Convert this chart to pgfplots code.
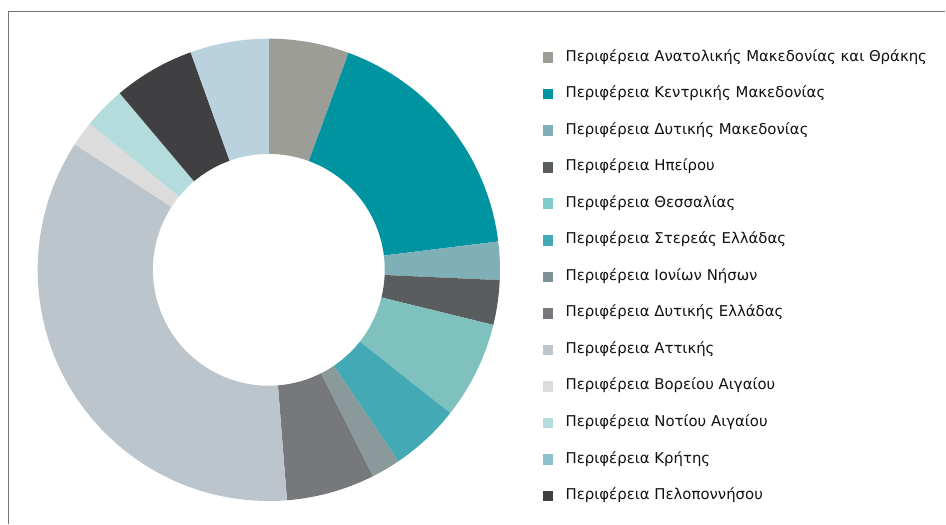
\documentclass[border=0pt]{standalone}
\usepackage{pgfplots}
\usepackage{pgfplotstable}
\pgfplotsset{compat=1.18}
\usepackage{fontspec}
\setmainfont{DejaVu Sans}

% slice colours (pie) and legend colours
\definecolor{s1}{HTML}{9D9D98}
\definecolor{s2}{HTML}{0093A0}
\definecolor{s3}{HTML}{7FB0B8}
\definecolor{s4}{HTML}{5A5D5E}
\definecolor{s5}{HTML}{7FC1BF}
\definecolor{s6}{HTML}{43A9B5}
\definecolor{s7}{HTML}{8A9A9A}
\definecolor{s8}{HTML}{77787C}
\definecolor{s9}{HTML}{BCC5CC}
\definecolor{s10}{HTML}{DCDCDD}
\definecolor{s11}{HTML}{B5DCDC}
\definecolor{s12}{HTML}{404042}
\definecolor{s13}{HTML}{B9D2DE}
\definecolor{l5}{HTML}{80CCCB}
\definecolor{l7}{HTML}{7F9297}
\definecolor{l12}{HTML}{8CC2CC}
\definecolor{txt}{HTML}{111111}

% share of each region, in pie order (clockwise from 12 o'clock)
\pgfplotstableread{
id value
1 5.61
2 17.43
3 2.67
4 3.12
5 6.81
6 4.89
7 2.04
8 6.18
9 35.39
10 1.76
11 2.94
12 5.67
13 5.49
}\shares

\begin{document}
\begin{tikzpicture}[x=1pt,y=1pt]
\path (0,0) rectangle (946,524);
\draw[black!55, line width=1.2pt] (8.8,0) -- (8.8,512.3) -- (946,512.3);
\begin{axis}[
    at={(269pt,254pt)}, anchor=center,
    width=462.6pt, height=462.6pt, scale only axis,
    hide axis, clip=false,
    xmin=-1, xmax=1, ymin=-1, ymax=1,
    legend cell align=left,
    legend image code/.code={\path[fill, draw=none] (0pt,-5.3pt) rectangle (10.6pt,5.3pt);},
    legend style={
        at={(1.0917,0.9747)}, anchor=north west,
        draw=none, fill=none, inner sep=0pt,
        row sep=22.57pt, column sep=12.5pt,
        font=\fontsize{14.9}{16}\selectfont\color{txt},
        nodes={inner sep=0pt, text height=10.5pt, text depth=3.5pt}},
  ]
  \pgfplotstablegetrowsof{\shares}
  \pgfmathtruncatemacro\last{\pgfplotsretval-1}
  \gdef\cum{0}
  \pgfplotsforeachungrouped \i in {0,...,\last}{%
    \pgfplotstablegetelem{\i}{value}\of\shares
    \pgfmathsetmacro\a{90-3.6*\cum}
    \pgfmathsetmacro\cumnew{\cum+\pgfplotsretval}
    \pgfmathsetmacro\b{90-3.6*\cumnew}
    \xdef\cum{\cumnew}
    \pgfmathtruncatemacro\k{\i+1}
    \edef\temp{\noexpand\fill[s\k] (axis cs:0,0) ++(\a:231.3pt)
      arc[start angle=\a, end angle=\b, radius=231.3pt]
      -- ([shift={(\b:116pt)}]axis cs:0,0)
      arc[start angle=\b, end angle=\a, radius=116pt] -- cycle;}
    \temp
  }
  \addlegendimage{fill=s1}  \addlegendentry{Περιφέρεια Ανατολικής Μακεδονίας και Θράκης}
  \addlegendimage{fill=s2}  \addlegendentry{Περιφέρεια Κεντρικής Μακεδονίας}
  \addlegendimage{fill=s3}  \addlegendentry{Περιφέρεια Δυτικής Μακεδονίας}
  \addlegendimage{fill=s4}  \addlegendentry{Περιφέρεια Ηπείρου}
  \addlegendimage{fill=l5}  \addlegendentry{Περιφέρεια Θεσσαλίας}
  \addlegendimage{fill=s6}  \addlegendentry{Περιφέρεια Στερεάς Ελλάδας}
  \addlegendimage{fill=l7}  \addlegendentry{Περιφέρεια Ιονίων Νήσων}
  \addlegendimage{fill=s8}  \addlegendentry{Περιφέρεια Δυτικής Ελλάδας}
  \addlegendimage{fill=s9}  \addlegendentry{Περιφέρεια Αττικής}
  \addlegendimage{fill=s10} \addlegendentry{Περιφέρεια Βορείου Αιγαίου}
  \addlegendimage{fill=s11} \addlegendentry{Περιφέρεια Νοτίου Αιγαίου}
  \addlegendimage{fill=l12} \addlegendentry{Περιφέρεια Κρήτης}
  \addlegendimage{fill=s12} \addlegendentry{Περιφέρεια Πελοποννήσου}
\end{axis}
\end{tikzpicture}
\end{document}
